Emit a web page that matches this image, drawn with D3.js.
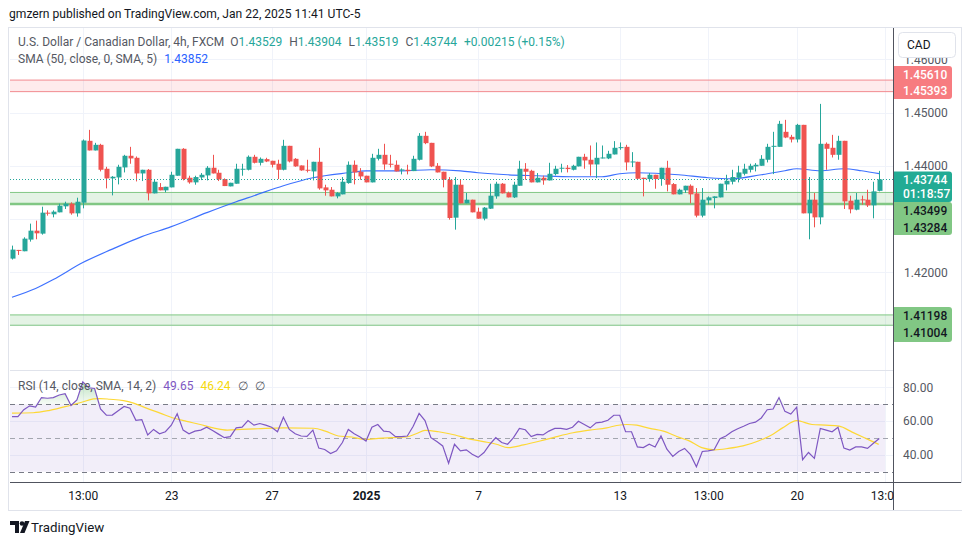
<!DOCTYPE html>
<html><head><meta charset="utf-8">
<script src="https://cdn.jsdelivr.net/npm/d3@7"></script>
<style>
html,body{margin:0;padding:0;background:#fff;}
svg{display:block;font-family:Roboto,"Noto Sans",sans-serif;}
</style></head><body>
<svg id="chart" width="970" height="545"></svg>
<script>
// ---------------- DATA ----------------
const open = [1.42256,1.42419,1.42394,1.42613,1.42781,1.42725,1.43119,1.43088,1.43125,1.43238,1.43288,1.43106,1.43306,1.44469,1.44288,1.44394,1.43944,1.43763,1.43781,1.43969,1.44188,1.44150,1.43856,1.43925,1.43481,1.43600,1.43538,1.43594,1.43813,1.44319,1.43775,1.43688,1.43781,1.43819,1.43963,1.43869,1.43750,1.43613,1.43663,1.43931,1.43925,1.44169,1.44056,1.44125,1.44094,1.44038,1.43925,1.44375,1.44131,1.44006,1.43925,1.43894,1.44075,1.43594,1.43550,1.43425,1.43463,1.43675,1.44019,1.43888,1.43813,1.43688,1.44131,1.44206,1.44038,1.44019,1.43919,1.43925,1.43900,1.44113,1.44563,1.44431,1.44000,1.43888,1.43738,1.43025,1.43644,1.43294,1.43363,1.43138,1.43006,1.43194,1.43425,1.43663,1.43494,1.43406,1.43625,1.43944,1.43906,1.43688,1.43775,1.43725,1.43844,1.43950,1.43963,1.43925,1.43988,1.44169,1.44113,1.44025,1.44138,1.44138,1.44213,1.44338,1.44356,1.44069,1.44075,1.43775,1.43750,1.43831,1.43750,1.43963,1.43656,1.43463,1.43538,1.43625,1.43481,1.43063,1.43350,1.43394,1.43406,1.43650,1.43700,1.43775,1.43850,1.43925,1.43988,1.44000,1.44113,1.44356,1.44356,1.44638,1.44544,1.44494,1.44769,1.43106,1.43363,1.43031,1.44413,1.44338,1.44206,1.44469,1.43344,1.43175,1.43369,1.43363,1.43256,1.43529];
const high = [1.42500,1.42419,1.42656,1.42913,1.42969,1.43231,1.43163,1.43163,1.43288,1.43325,1.43313,1.43400,1.44494,1.44675,1.44431,1.44413,1.43981,1.43806,1.44019,1.44206,1.44356,1.44175,1.43925,1.43938,1.43750,1.43675,1.43606,1.43888,1.44319,1.44331,1.43813,1.43813,1.43863,1.43994,1.44206,1.43925,1.43763,1.43681,1.44038,1.44038,1.44194,1.44206,1.44156,1.44150,1.44094,1.44113,1.44488,1.44375,1.44144,1.44006,1.44113,1.44075,1.44338,1.43644,1.43600,1.43506,1.43788,1.44081,1.44100,1.43956,1.43813,1.44225,1.44319,1.44413,1.44206,1.44100,1.43950,1.44019,1.44188,1.44613,1.44638,1.44431,1.44050,1.43888,1.43788,1.43788,1.43750,1.43488,1.43363,1.43213,1.43225,1.43663,1.43700,1.43675,1.43513,1.43700,1.44094,1.44050,1.43925,1.43863,1.43813,1.44056,1.44000,1.44038,1.44013,1.44019,1.44169,1.44225,1.44381,1.44438,1.44381,1.44281,1.44463,1.44438,1.44394,1.44256,1.44075,1.43775,1.43863,1.43831,1.43963,1.44094,1.43675,1.43569,1.43625,1.43650,1.43581,1.43581,1.43425,1.43425,1.43663,1.43831,1.43925,1.44000,1.44038,1.44038,1.44050,1.44200,1.44413,1.44638,1.44844,1.44863,1.44581,1.44788,1.44769,1.43788,1.43488,1.45163,1.44438,1.44581,1.44563,1.44469,1.43438,1.43488,1.43438,1.43550,1.43700,1.43904];
const low = [1.42238,1.42325,1.42394,1.42575,1.42619,1.42706,1.43063,1.43031,1.43125,1.43188,1.43081,1.43044,1.43200,1.44288,1.44288,1.43894,1.43575,1.43444,1.43650,1.43875,1.44038,1.43706,1.43713,1.43350,1.43481,1.43538,1.43500,1.43594,1.43813,1.43725,1.43663,1.43644,1.43731,1.43725,1.43856,1.43713,1.43619,1.43613,1.43663,1.43813,1.43913,1.44044,1.44006,1.44069,1.43969,1.43750,1.43913,1.44063,1.43981,1.43906,1.43875,1.43725,1.43550,1.43438,1.43425,1.43388,1.43463,1.43663,1.43650,1.43738,1.43688,1.43688,1.44100,1.43925,1.43969,1.43894,1.43838,1.43838,1.43900,1.44100,1.44406,1.43975,1.43875,1.43594,1.42988,1.42800,1.43294,1.43294,1.43125,1.43006,1.42975,1.43188,1.43381,1.43481,1.43406,1.43394,1.43625,1.43738,1.43688,1.43688,1.43644,1.43725,1.43819,1.43875,1.43875,1.43913,1.43988,1.43944,1.43813,1.43769,1.44138,1.44125,1.44213,1.44300,1.43913,1.43975,1.43756,1.43425,1.43700,1.43569,1.43625,1.43519,1.43463,1.43463,1.43488,1.43294,1.43031,1.43031,1.43275,1.43200,1.43406,1.43538,1.43650,1.43688,1.43819,1.43875,1.43894,1.44000,1.44063,1.43844,1.44356,1.44519,1.44438,1.44438,1.43106,1.42619,1.42844,1.42900,1.43925,1.44156,1.44113,1.43188,1.43106,1.43163,1.43269,1.43225,1.43013,1.43519];
const close = [1.42425,1.42406,1.42631,1.42781,1.42731,1.43119,1.43106,1.43138,1.43250,1.43288,1.43106,1.43325,1.44475,1.44288,1.44394,1.43925,1.43763,1.43794,1.43981,1.44188,1.44138,1.43856,1.43925,1.43481,1.43700,1.43538,1.43606,1.43831,1.44319,1.43750,1.43688,1.43788,1.43831,1.43963,1.43856,1.43744,1.43619,1.43681,1.43944,1.43944,1.44169,1.44056,1.44131,1.44081,1.44019,1.43925,1.44375,1.44081,1.43988,1.43913,1.43906,1.44075,1.43575,1.43538,1.43425,1.43488,1.43700,1.44019,1.43875,1.43800,1.43688,1.44150,1.44206,1.44025,1.44025,1.43894,1.43931,1.43900,1.44131,1.44563,1.44425,1.43988,1.43875,1.43738,1.43019,1.43644,1.43294,1.43363,1.43125,1.43006,1.43213,1.43438,1.43663,1.43481,1.43406,1.43644,1.43944,1.43888,1.43688,1.43775,1.43725,1.43850,1.43944,1.43963,1.43938,1.44000,1.44169,1.44100,1.44025,1.44150,1.44156,1.44225,1.44338,1.44350,1.44063,1.44081,1.43756,1.43750,1.43831,1.43750,1.43963,1.43644,1.43463,1.43550,1.43625,1.43463,1.43063,1.43363,1.43406,1.43425,1.43663,1.43719,1.43788,1.43875,1.43944,1.44000,1.44019,1.44131,1.44356,1.44375,1.44788,1.44531,1.44494,1.44769,1.43106,1.43363,1.43031,1.44413,1.44319,1.44206,1.44469,1.43331,1.43181,1.43363,1.43356,1.43256,1.43519,1.43744];

// SMA(50) readings: [bar index, value]
const smaPoints = [[0,1.41530],[4,1.41694],[7,1.41862],[12,1.42181],[17,1.42434],[22,1.42669],[27,1.42856],[33,1.43119],[38,1.43325],[41,1.43437],[46,1.43625],[51,1.43775],[57,1.43869],[60,1.43906],[66,1.43906],[71,1.43925],[76,1.43906],[79,1.43869],[84,1.43831],[89,1.43813],[95,1.43794],[100,1.43794],[103,1.43850],[106,1.43869],[113,1.43831],[118,1.43775],[122,1.43756],[127,1.43831],[131,1.43906],[133,1.43944],[137,1.43906],[141,1.43944],[144,1.43906],[147,1.43852]];

// RSI(14) per bar
const rsi = [62.7,62.7,66.8,69.1,68.3,74.0,73.6,74.0,75.5,76.3,69.3,72.6,83.3,79.8,79.4,67.3,63.5,63.6,66.2,68.7,67.7,60.5,60.9,51.8,55.1,52.5,53.7,57.6,64.4,54.7,52.5,54.1,54.7,56.4,54.5,52.3,50.2,50.8,56.0,56.4,60.3,57.6,58.6,57.6,56.4,53.7,62.3,55.1,52.5,51.2,51.0,54.7,44.0,43.2,40.8,42.4,47.3,55.1,52.5,50.6,48.2,56.4,58.0,54.1,53.7,50.8,50.8,51.2,57.0,64.6,60.3,50.2,47.9,45.3,35.0,46.3,42.4,43.0,40.4,38.5,41.4,46.3,50.2,47.3,46.3,50.2,55.7,54.9,50.8,52.1,51.8,54.1,55.7,55.7,55.1,56.4,59.9,58.0,56.0,59.0,59.4,60.5,63.5,63.5,53.7,53.7,44.7,44.3,46.3,44.7,51.2,43.4,39.1,42.0,43.8,40.1,33.0,42.0,42.4,43.0,49.6,51.2,53.7,55.5,57.0,58.6,59.4,61.9,66.8,67.2,74.0,65.8,64.2,68.3,37.1,41.4,37.9,55.7,54.7,53.7,56.4,44.0,42.8,44.7,44.7,43.8,46.9,49.65];

// RSI-based SMA readings: [bar index, value]
const rsiMaPoints = [[0,64.8],[3.6,65.0],[6.4,66.4],[9.8,69.3],[11.8,71.2],[13.8,73.2],[14.9,73.4],[16.6,73.0],[18.9,72.2],[20.6,70.7],[22.8,67.7],[25.1,64.8],[27.3,61.9],[29.6,59.9],[31.9,58.0],[34.1,56.0],[36.5,54.7],[38.9,55.1],[41.7,55.5],[46.0,56.0],[51.1,55.8],[53.1,54.1],[55.3,51.2],[57.6,50.6],[59.8,49.2],[62.1,49.8],[64.4,50.2],[66.9,50.6],[68.6,52.7],[70.0,54.5],[72.3,53.7],[75.1,51.8],[77.1,49.8],[79.9,47.9],[82.1,46.3],[84.1,44.3],[86.7,45.9],[89.5,48.2],[92.3,50.8],[95.1,53.1],[97.9,54.7],[100.8,56.0],[102.5,57.4],[104.2,58.0],[105.9,57.6],[108.1,55.7],[110.4,54.1],[113.2,50.2],[114.6,48.6],[116.9,44.3],[119.1,43.0],[121.4,43.8],[123.9,45.3],[126.5,48.2],[128.9,52.1],[130.6,56.0],[133.0,60.3],[135.6,58.0],[137.9,57.6],[140.2,57.0],[142.4,53.5],[144.7,49.8],[146.9,46.24]];

const timeTickIdx = [12,27,44,60,79,103,118,133,148];
const timeTickLabels = ["13:00","23","27","2025","7","13","13:00","20","13:00"];
const priceGrid = [1.41,1.42,1.43,1.44,1.45,1.46];
const priceLabels = [1.42,1.44,1.45,1.46];
const rsiTicks = [40,60,80];
const rsiBands = [70,50,30];

const zoneTop = [1.45610,1.43499,1.41198];
const zoneBottom = [1.45393,1.43284,1.41004];
const zoneKind = ["red","green","green"];

const lastPrice = 1.43744;
const lastCountdown = "01:18:57";
const smaLast = "1.43852";
const rsiLast = "49.65", rsiMaLast = "46.24";

// ---------------- LAYOUT ----------------
const svg = d3.select("#chart");
const L = 10, R = 893, mainT = 28, mainB = 370, rsiT = 371, rsiB = 482;
const UP = "#26a69a", DOWN = "#ef5350";
const x = d3.scaleLinear().domain([0,147]).range([12,879.3]);
const y = d3.scaleLinear().domain([1.40,1.46]).range([378.67,59.33]);
const ry = d3.scaleLinear().domain([30,70]).range([471.7,404.3]);

svg.append("rect").attr("width",970).attr("height",545).attr("fill","#fff");

const defs = svg.append("defs");
defs.append("clipPath").attr("id","clipMain").append("rect")
  .attr("x",L).attr("y",mainT).attr("width",R-L).attr("height",mainB-mainT);
defs.append("clipPath").attr("id","clipRsi").append("rect")
  .attr("x",L).attr("y",rsiT).attr("width",R-L).attr("height",rsiB-rsiT);
const grad = defs.append("linearGradient").attr("id","obGrad").attr("x1",0).attr("x2",0).attr("y1",0).attr("y2",1);
grad.append("stop").attr("offset","0%").attr("stop-color","#4caf50").attr("stop-opacity",0.35);
grad.append("stop").attr("offset","100%").attr("stop-color","#4caf50").attr("stop-opacity",0.05);

// header
svg.append("text").attr("x",9).attr("y",18).attr("font-size",12.1).attr("fill","#131722")
  .text("gmzern published on TradingView.com, Jan 22, 2025 11:41 UTC-5");

// frame
svg.append("rect").attr("x",8.5).attr("y",27.5).attr("width",953).attr("height",483)
  .attr("fill","none").attr("stroke","#e0e3eb");

// ---------- grids ----------
const grid = svg.append("g").attr("stroke","#f0f3fa").attr("stroke-width",1);
grid.selectAll("line.v").data(timeTickIdx).join("line")
  .attr("x1",d=>Math.round(x(d))+0.5).attr("x2",d=>Math.round(x(d))+0.5)
  .attr("y1",mainT).attr("y2",rsiB);
grid.selectAll("line.h").data(priceGrid).join("line")
  .attr("x1",L).attr("x2",R).attr("y1",d=>Math.round(y(d))+0.5).attr("y2",d=>Math.round(y(d))+0.5);
grid.selectAll("line.r").data(rsiTicks).join("line")
  .attr("x1",L).attr("x2",R).attr("y1",d=>Math.round(ry(d))+0.5).attr("y2",d=>Math.round(ry(d))+0.5);

// ---------- main pane ----------
const main = svg.append("g").attr("clip-path","url(#clipMain)");
zoneTop.forEach((t,i)=>{
  const b = zoneBottom[i];
  const red = zoneKind[i]==="red";
  main.append("rect").attr("x",L).attr("width",R-L)
    .attr("y",y(t)).attr("height",y(b)-y(t))
    .attr("fill",red?"rgba(242,54,69,0.10)":"rgba(76,175,80,0.15)");
  main.append("line").attr("x1",L).attr("x2",R).attr("y1",y(t)).attr("y2",y(t))
    .attr("stroke",red?"#f28b8f":"#81c784").attr("stroke-width",1);
  main.append("line").attr("x1",L).attr("x2",R).attr("y1",y(b)).attr("y2",y(b))
    .attr("stroke",red?"#f28b8f":"#81c784").attr("stroke-width",i===1?2.5:1);
});

// SMA
main.append("path").datum(smaPoints)
  .attr("d",d3.line().x(d=>x(d[0])).y(d=>y(d[1])).curve(d3.curveMonotoneX))
  .attr("fill","none").attr("stroke","#2962ff").attr("stroke-width",1.2).attr("opacity",0.9);

// candles
const candles = open.map((o,i)=>({i,o,h:high[i],l:low[i],c:close[i]}));
const cg = main.append("g");
cg.selectAll("line").data(candles).join("line")
  .attr("x1",d=>Math.round(x(d.i))+0.5).attr("x2",d=>Math.round(x(d.i))+0.5)
  .attr("y1",d=>y(d.h)).attr("y2",d=>y(d.l))
  .attr("stroke",d=>d.c>=d.o?UP:DOWN).attr("stroke-width",1);
cg.selectAll("rect").data(candles).join("rect")
  .attr("x",d=>Math.round(x(d.i))-1.5).attr("width",5)
  .attr("y",d=>Math.min(y(d.o),y(d.c)))
  .attr("height",d=>Math.max(1,Math.abs(y(d.o)-y(d.c))))
  .attr("fill",d=>d.c>=d.o?UP:DOWN);

// last price dotted line
main.append("line").attr("x1",L).attr("x2",R).attr("y1",Math.round(y(lastPrice))+0.5).attr("y2",Math.round(y(lastPrice))+0.5)
  .attr("stroke",UP).attr("stroke-dasharray","1,2");

// legends
const lg = svg.append("text").attr("x",18).attr("y",46).attr("font-size",12).attr("fill","#555862");
lg.append("tspan").text("U.S. Dollar / Canadian Dollar, 4h, FXCM");
const ohlcLbl = ["O","H","L","C"], ohlcVal = [open[147],high[147],low[147],close[147]];
ohlcLbl.forEach((k,i)=>{
  lg.append("tspan").attr("dx",i===0?6:7).text(k);
  lg.append("tspan").attr("fill",UP).text(ohlcVal[i].toFixed(5));
});
lg.append("tspan").attr("dx",7).attr("fill",UP).text("+0.00215 (+0.15%)");
const lg2 = svg.append("text").attr("x",18).attr("y",63).attr("font-size",12).attr("fill","#555862");
lg2.append("tspan").text("SMA (50, close, 0, SMA, 5)");
lg2.append("tspan").attr("dx",7).attr("fill","#2962ff").text(smaLast);

// ---------- RSI pane ----------
svg.append("line").attr("x1",L).attr("x2",R).attr("y1",370.5).attr("y2",370.5).attr("stroke","#e0e3eb");
const rp = svg.append("g").attr("clip-path","url(#clipRsi)");
rp.append("rect").attr("x",L).attr("width",885-L).attr("y",ry(70)).attr("height",ry(30)-ry(70))
  .attr("fill","rgba(126,87,194,0.1)");
rsiBands.forEach(v=>{
  rp.append("line").attr("x1",L).attr("x2",R).attr("y1",Math.round(ry(v))+0.5).attr("y2",Math.round(ry(v))+0.5)
    .attr("stroke",v===50?"#a3a6af":"#787b86").attr("stroke-dasharray","5,4");
});
// overbought fill
rp.append("path").datum(rsi)
  .attr("d",d3.area().x((d,i)=>x(i)).y0(ry(70)).y1(d=>ry(Math.max(70,d))))
  .attr("fill","url(#obGrad)");
rp.append("path").datum(rsiMaPoints)
  .attr("d",d3.line().x(d=>x(d[0])).y(d=>ry(d[1])).curve(d3.curveMonotoneX))
  .attr("fill","none").attr("stroke","#fdd835").attr("stroke-width",1.2);
rp.append("path").datum(rsi)
  .attr("d",d3.line().x((d,i)=>x(i)).y(d=>ry(d)))
  .attr("fill","none").attr("stroke","#7e57c2").attr("stroke-width",1.2);

const rl = svg.append("text").attr("x",18).attr("y",389.5).attr("font-size",12).attr("fill","#555862");
rl.append("tspan").text("RSI (14, close, SMA, 14, 2)");
rl.append("tspan").attr("dx",7).attr("fill","#7e57c2").text(rsiLast);
rl.append("tspan").attr("dx",7).attr("fill","#f5d90a").text(rsiMaLast);
rl.append("tspan").attr("dx",7).text("\u2205");
rl.append("tspan").attr("dx",7).text("\u2205");

// ---------- axes ----------
svg.append("line").attr("x1",R+0.5).attr("x2",R+0.5).attr("y1",mainT).attr("y2",510).attr("stroke","#50535e");
svg.append("line").attr("x1",L).attr("x2",961).attr("y1",482.5).attr("y2",482.5).attr("stroke","#50535e");

const pAxis = svg.append("g").attr("transform",`translate(${R},0)`)
  .call(d3.axisRight(y).tickValues(priceLabels).tickFormat(d3.format(".5f")).tickSize(0).tickPadding(11));
pAxis.select(".domain").remove();
pAxis.selectAll("text").attr("font-size",12).attr("fill","#555862").attr("font-family","Roboto");

const rAxis = svg.append("g").attr("transform",`translate(${R},0)`)
  .call(d3.axisRight(ry).tickValues(rsiTicks).tickFormat(d3.format(".2f")).tickSize(0).tickPadding(10));
rAxis.select(".domain").remove();
rAxis.selectAll("text").attr("font-size",12).attr("fill","#555862").attr("font-family","Roboto");

const tAxis = svg.append("g").attr("transform",`translate(0,${rsiB})`)
  .call(d3.axisBottom(x).tickValues(timeTickIdx).tickFormat((d,i)=>timeTickLabels[i]).tickSize(0).tickPadding(9));
tAxis.select(".domain").remove();
tAxis.selectAll("text").attr("font-size",12).attr("fill","#131722").attr("font-family","Roboto")
  .attr("font-weight",(d,i)=>timeTickLabels[i]==="2025"?"bold":"normal");
// cover clipped part of last time label
svg.append("rect").attr("x",R+1).attr("y",483).attr("width",68).attr("height",27).attr("fill","#fff");

// CAD box (covers top of 1.46 label)
svg.append("rect").attr("x",R+1).attr("y",28).attr("width",67).attr("height",30).attr("fill","#fff");
svg.append("rect").attr("x",898.5).attr("y",32.5).attr("width",57).attr("height",25).attr("rx",4)
  .attr("fill","#fff").attr("stroke","#e0e3eb");
svg.append("text").attr("x",907).attr("y",49).attr("font-size",12).attr("fill","#131722").text("CAD");

// price labels
function tag(yTop,h,fill,color,lines){
  svg.append("path").attr("d",`M${R+1},${yTop} h55 a3,3 0 0 1 3,3 v${h-6} a3,3 0 0 1 -3,3 h-55 z`).attr("fill",fill);
  lines.forEach(l=>{
    svg.append("text").attr("x",903).attr("y",l[1]).attr("dy","0.35em").attr("font-size",12)
      .attr("fill",color).attr("font-weight",500).text(l[0]);
  });
}
tag(66,33,"#f77c80","#fff",[[zoneTop[0].toFixed(5),75],[zoneBottom[0].toFixed(5),91]]);
tag(171.5,30.5,"#22ab94","#fff",[[lastPrice.toFixed(5),180],[lastCountdown,194]]);
tag(202,33,"#81c784","#131722",[[zoneTop[1].toFixed(5),211],[zoneBottom[1].toFixed(5),228]]);
tag(307,35,"#81c784","#131722",[[zoneTop[2].toFixed(5),316],[zoneBottom[2].toFixed(5),333]]);

// logo
const logo = svg.append("g").attr("fill","#131722");
logo.append("path").attr("d","M10 521 h9 v12 h-4 v-8 h-5 z");
logo.append("circle").attr("cx",22).attr("cy",523.5).attr("r",2.3);
logo.append("path").attr("d","M25 521 h4.5 l-5 12 h-4.5 z");
svg.append("text").attr("x",31).attr("y",532).attr("font-size",13.3).attr("fill","#131722").text("TradingView");
</script>
</body></html>
